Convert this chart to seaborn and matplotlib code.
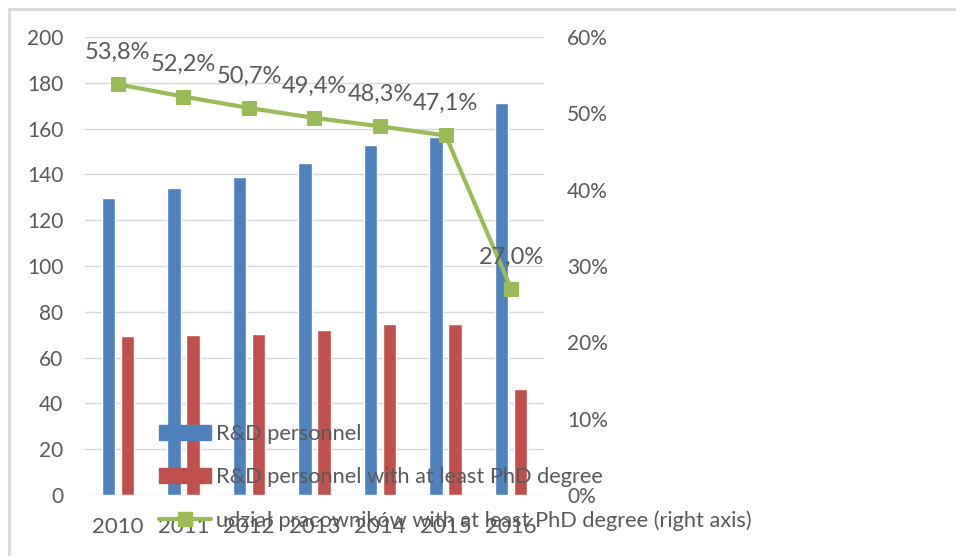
import numpy as np
import pandas as pd
import matplotlib
matplotlib.use("Agg")
import matplotlib.pyplot as plt
from matplotlib.lines import Line2D
from matplotlib.patches import Patch
import seaborn as sns

years = ["2010", "2011", "2012", "2013", "2014", "2015", "2016"]
rd_personnel = [129.5, 134, 139, 145, 153, 156.5, 171]
rd_phd = [69.5, 70, 70.5, 72, 74.5, 74.5, 46.5]
phd_share = [53.8, 52.2, 50.7, 49.4, 48.3, 47.1, 27.0]
share_labels = ["53,8%", "52,2%", "50,7%", "49,4%", "48,3%", "47,1%", "27,0%"]

series_names = [
    "R&D personnel",
    "R&D personnel with at least PhD degree",
    "udział pracowników with at least PhD degree (right axis)",
]

BLUE, RED, GREEN = "#4F81BD", "#C0504D", "#9BBB59"
TEXT = "#595959"
GRID = "#D9D9D9"

sns.set_style("white")
plt.rcParams["font.family"] = ["Lato", "DejaVu Sans"]
FS_TICK = 15
FS_XTICK = 16
FS_LABEL = 17
FS_LEGEND = 15.7

df = pd.DataFrame({
    "year": years * 2,
    "value": rd_personnel + rd_phd,
    "series": [series_names[0]] * 7 + [series_names[1]] * 7,
})

fig = plt.figure(figsize=(9.56, 5.56), dpi=100)
ax = fig.add_axes([85 / 956, 1 - 495 / 556, 459 / 956, 458 / 556])

sns.barplot(data=df, x="year", y="value", hue="series",
            palette=[BLUE, RED], width=0.58, gap=0.3, saturation=1,
            ax=ax, legend=False)
ax.set_xlim(-0.5, 6.5)
ax.set_ylim(0, 200)
ax.set_yticks(np.arange(0, 201, 20))
ax.set_xlabel("")
ax.set_ylabel("")
ax.grid(axis="y", color=GRID, linewidth=1)
ax.set_axisbelow(True)
for s in ax.spines.values():
    s.set_visible(False)
ax.tick_params(axis="y", length=0, pad=15.5, labelsize=FS_TICK, labelcolor=TEXT)
ax.tick_params(axis="x", length=0, pad=16, labelsize=FS_XTICK, labelcolor=TEXT)

ax2 = ax.twinx()
sns.lineplot(x=np.arange(len(years)), y=phd_share, ax=ax2, color=GREEN,
             linewidth=3, marker="s", markersize=10, markeredgecolor=GREEN,
             sort=False, legend=False)
ax2.set_ylim(0, 60)
ax2.set_yticks(np.arange(0, 61, 10))
ax2.set_yticklabels([f"{v}%" for v in range(0, 61, 10)])
ax2.set_ylabel("")
for s in ax2.spines.values():
    s.set_visible(False)
ax2.tick_params(axis="y", length=0, pad=16.5, labelsize=FS_TICK, labelcolor=TEXT)

for i, (v, lab) in enumerate(zip(phd_share, share_labels)):
    ax2.annotate(lab, (i, v), xytext=(0, 23), textcoords="offset points",
                 ha="center", va="center", fontsize=FS_LABEL, color=TEXT)

handles = [
    Patch(facecolor=BLUE, edgecolor=BLUE),
    Patch(facecolor=RED, edgecolor=RED),
    Line2D([], [], color=GREEN, linewidth=3, marker="s", markersize=10),
]
fig.legend(handles, series_names, loc="upper left",
           bbox_to_anchor=(148 / 956, 1 - 413 / 556), frameon=False,
           fontsize=FS_LEGEND, labelcolor=TEXT, handlelength=2.4,
           handleheight=0.68, handletextpad=0.2, labelspacing=1.06,
           borderpad=0)

# thin frame along the top and left edges
fig.add_artist(Line2D([9 / 956, 9 / 956], [0, 1 - 9 / 556],
                      transform=fig.transFigure, color=GRID, linewidth=2))
fig.add_artist(Line2D([9 / 956, 1], [1 - 9 / 556, 1 - 9 / 556],
                      transform=fig.transFigure, color=GRID, linewidth=2))

fig.savefig("out.png", dpi=100)
